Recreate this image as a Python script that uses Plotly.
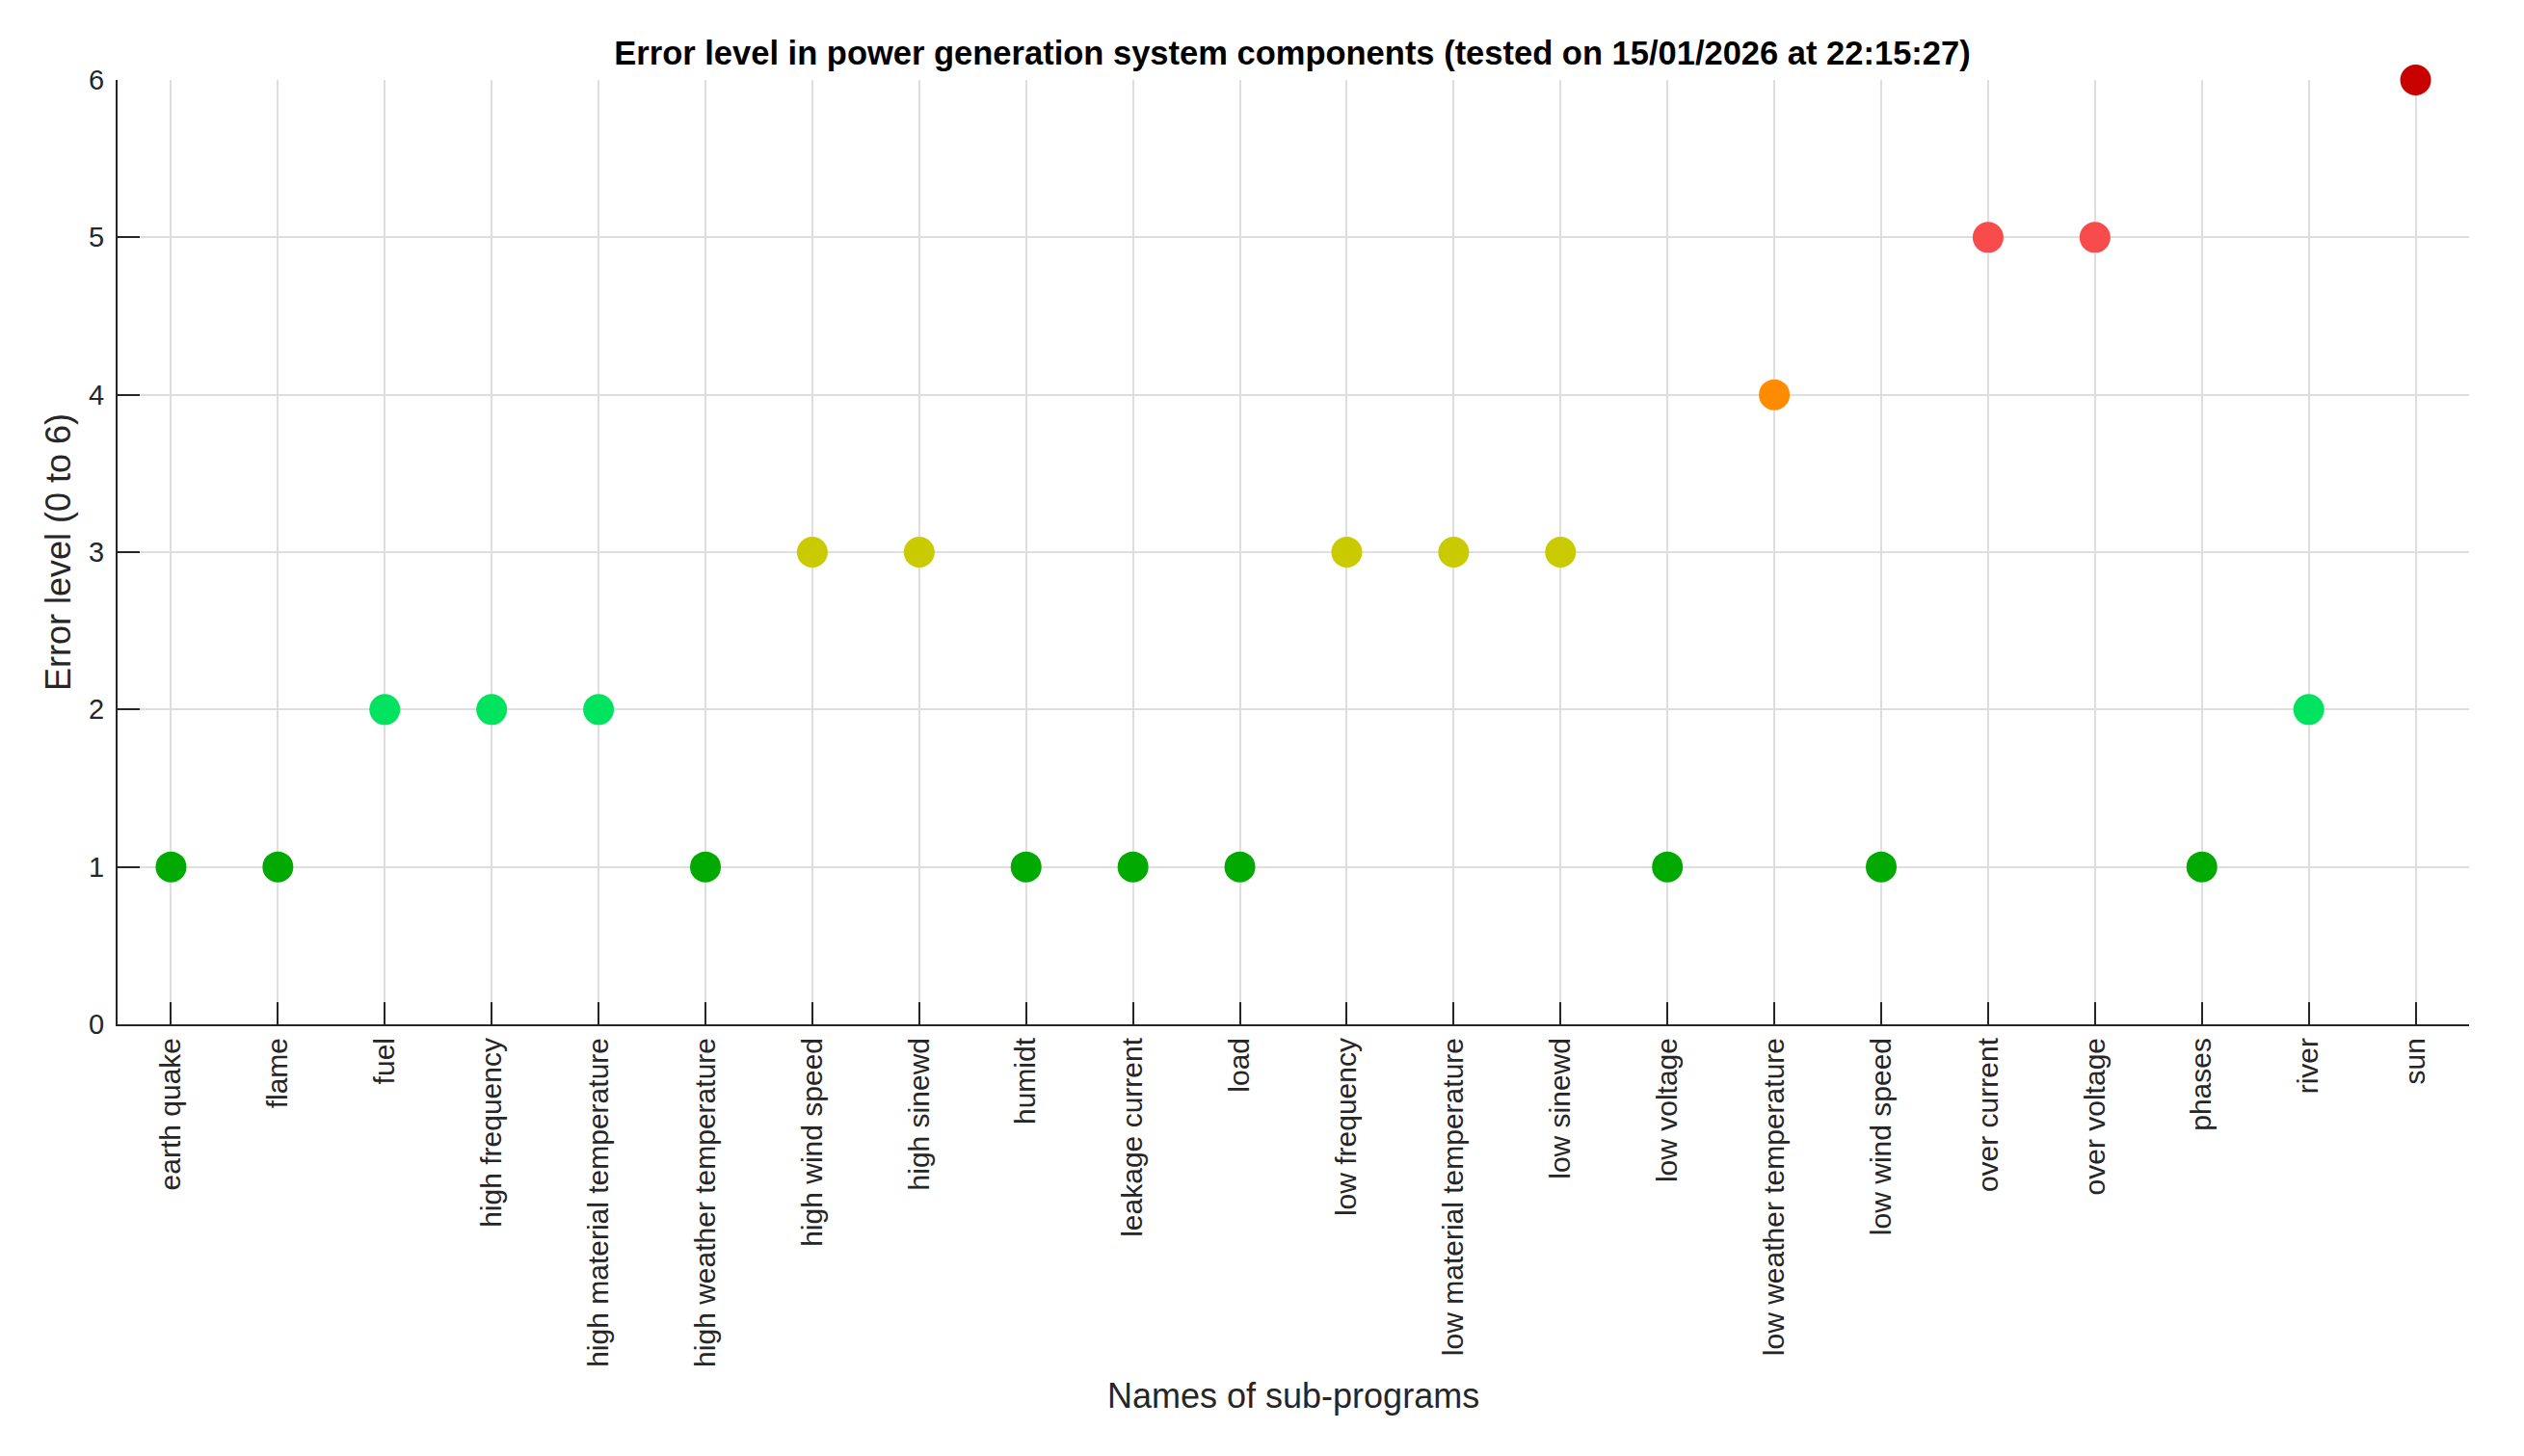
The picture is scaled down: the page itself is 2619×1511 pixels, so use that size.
import plotly.graph_objects as go

categories = ["earth quake", "flame", "fuel", "high frequency", "high material temperature",
              "high weather temperature", "high wind speed", "high sinewd", "humidt",
              "leakage current", "load", "low frequency", "low material temperature",
              "low sinewd", "low voltage", "low weather temperature", "low wind speed",
              "over current", "over voltage", "phases", "river", "sun"]
error_levels = [1, 1, 2, 2, 2, 1, 3, 3, 1, 1, 1, 3, 3, 3, 1, 4, 1, 5, 5, 1, 2, 6]
level_colors = {1: "#00AA00", 2: "#00E35F", 3: "#CACA00", 4: "#FF8C00", 5: "#F84B4B", 6: "#C80000"}
y_ticks = [0, 1, 2, 3, 4, 5, 6]

title_text = "Error level in power generation system components (tested on 15/01/2026 at 22:15:27)"
x_title = "Names of sub-programs"
y_title = "Error level (0 to 6)"

FONT = "Liberation Sans, Arial, Helvetica, sans-serif"
TXT = "#262626"

fig = go.Figure()
fig.add_trace(go.Scatter(
    x=list(range(len(categories))), y=error_levels, mode="markers",
    marker=dict(size=32, color=[level_colors[v] for v in error_levels], line=dict(width=0)),
    cliponaxis=False, hoverinfo="skip", showlegend=False,
))

fig.update_layout(
    width=2619, height=1511,
    margin=dict(l=122, r=57, t=83, b=448),
    paper_bgcolor="white", plot_bgcolor="white",
    font=dict(family=FONT, color=TXT, size=30),
    title=dict(text="<b>" + title_text + "</b>", x=(1341 / 2619), xanchor="center",
               y=1 - 55 / 1511, yanchor="middle", yref="container",
               font=dict(size=34.5, color="#000000", family=FONT)),
    xaxis=dict(
        range=[-0.5, len(categories) - 0.5],
        tickmode="array", tickvals=list(range(len(categories))), ticktext=categories,
        tickangle=-90, ticks="inside", ticklen=23, tickwidth=2, tickcolor=TXT,
        showline=True, linecolor=TXT, linewidth=2, mirror=False,
        showgrid=True, gridcolor="#DEDEDE", gridwidth=2, zeroline=False,
        tickfont=dict(size=30, color=TXT, family=FONT),
    ),
    yaxis=dict(
        range=[0, 6], tickmode="array", tickvals=y_ticks,
        ticks="inside", ticklen=23, tickwidth=2, tickcolor=TXT,
        showline=True, linecolor=TXT, linewidth=2, mirror=False,
        showgrid=True, gridcolor="#DEDEDE", gridwidth=2, zeroline=False,
        ticklabelstandoff=6,
        tickfont=dict(size=29, color=TXT, family=FONT),
    ),
    annotations=[
        dict(text=x_title, xref="paper", yref="paper", x=0.5, y=-(1448 - 1063) / 980,
             xanchor="center", yanchor="middle", showarrow=False,
             font=dict(size=36, color=TXT, family=FONT)),
        dict(text=y_title, xref="paper", yref="paper", x=-(122 - 60) / 2440, y=0.5,
             xanchor="center", yanchor="middle", showarrow=False, textangle=-90,
             font=dict(size=36, color=TXT, family=FONT)),
    ],
)

fig.write_html("out.html")
